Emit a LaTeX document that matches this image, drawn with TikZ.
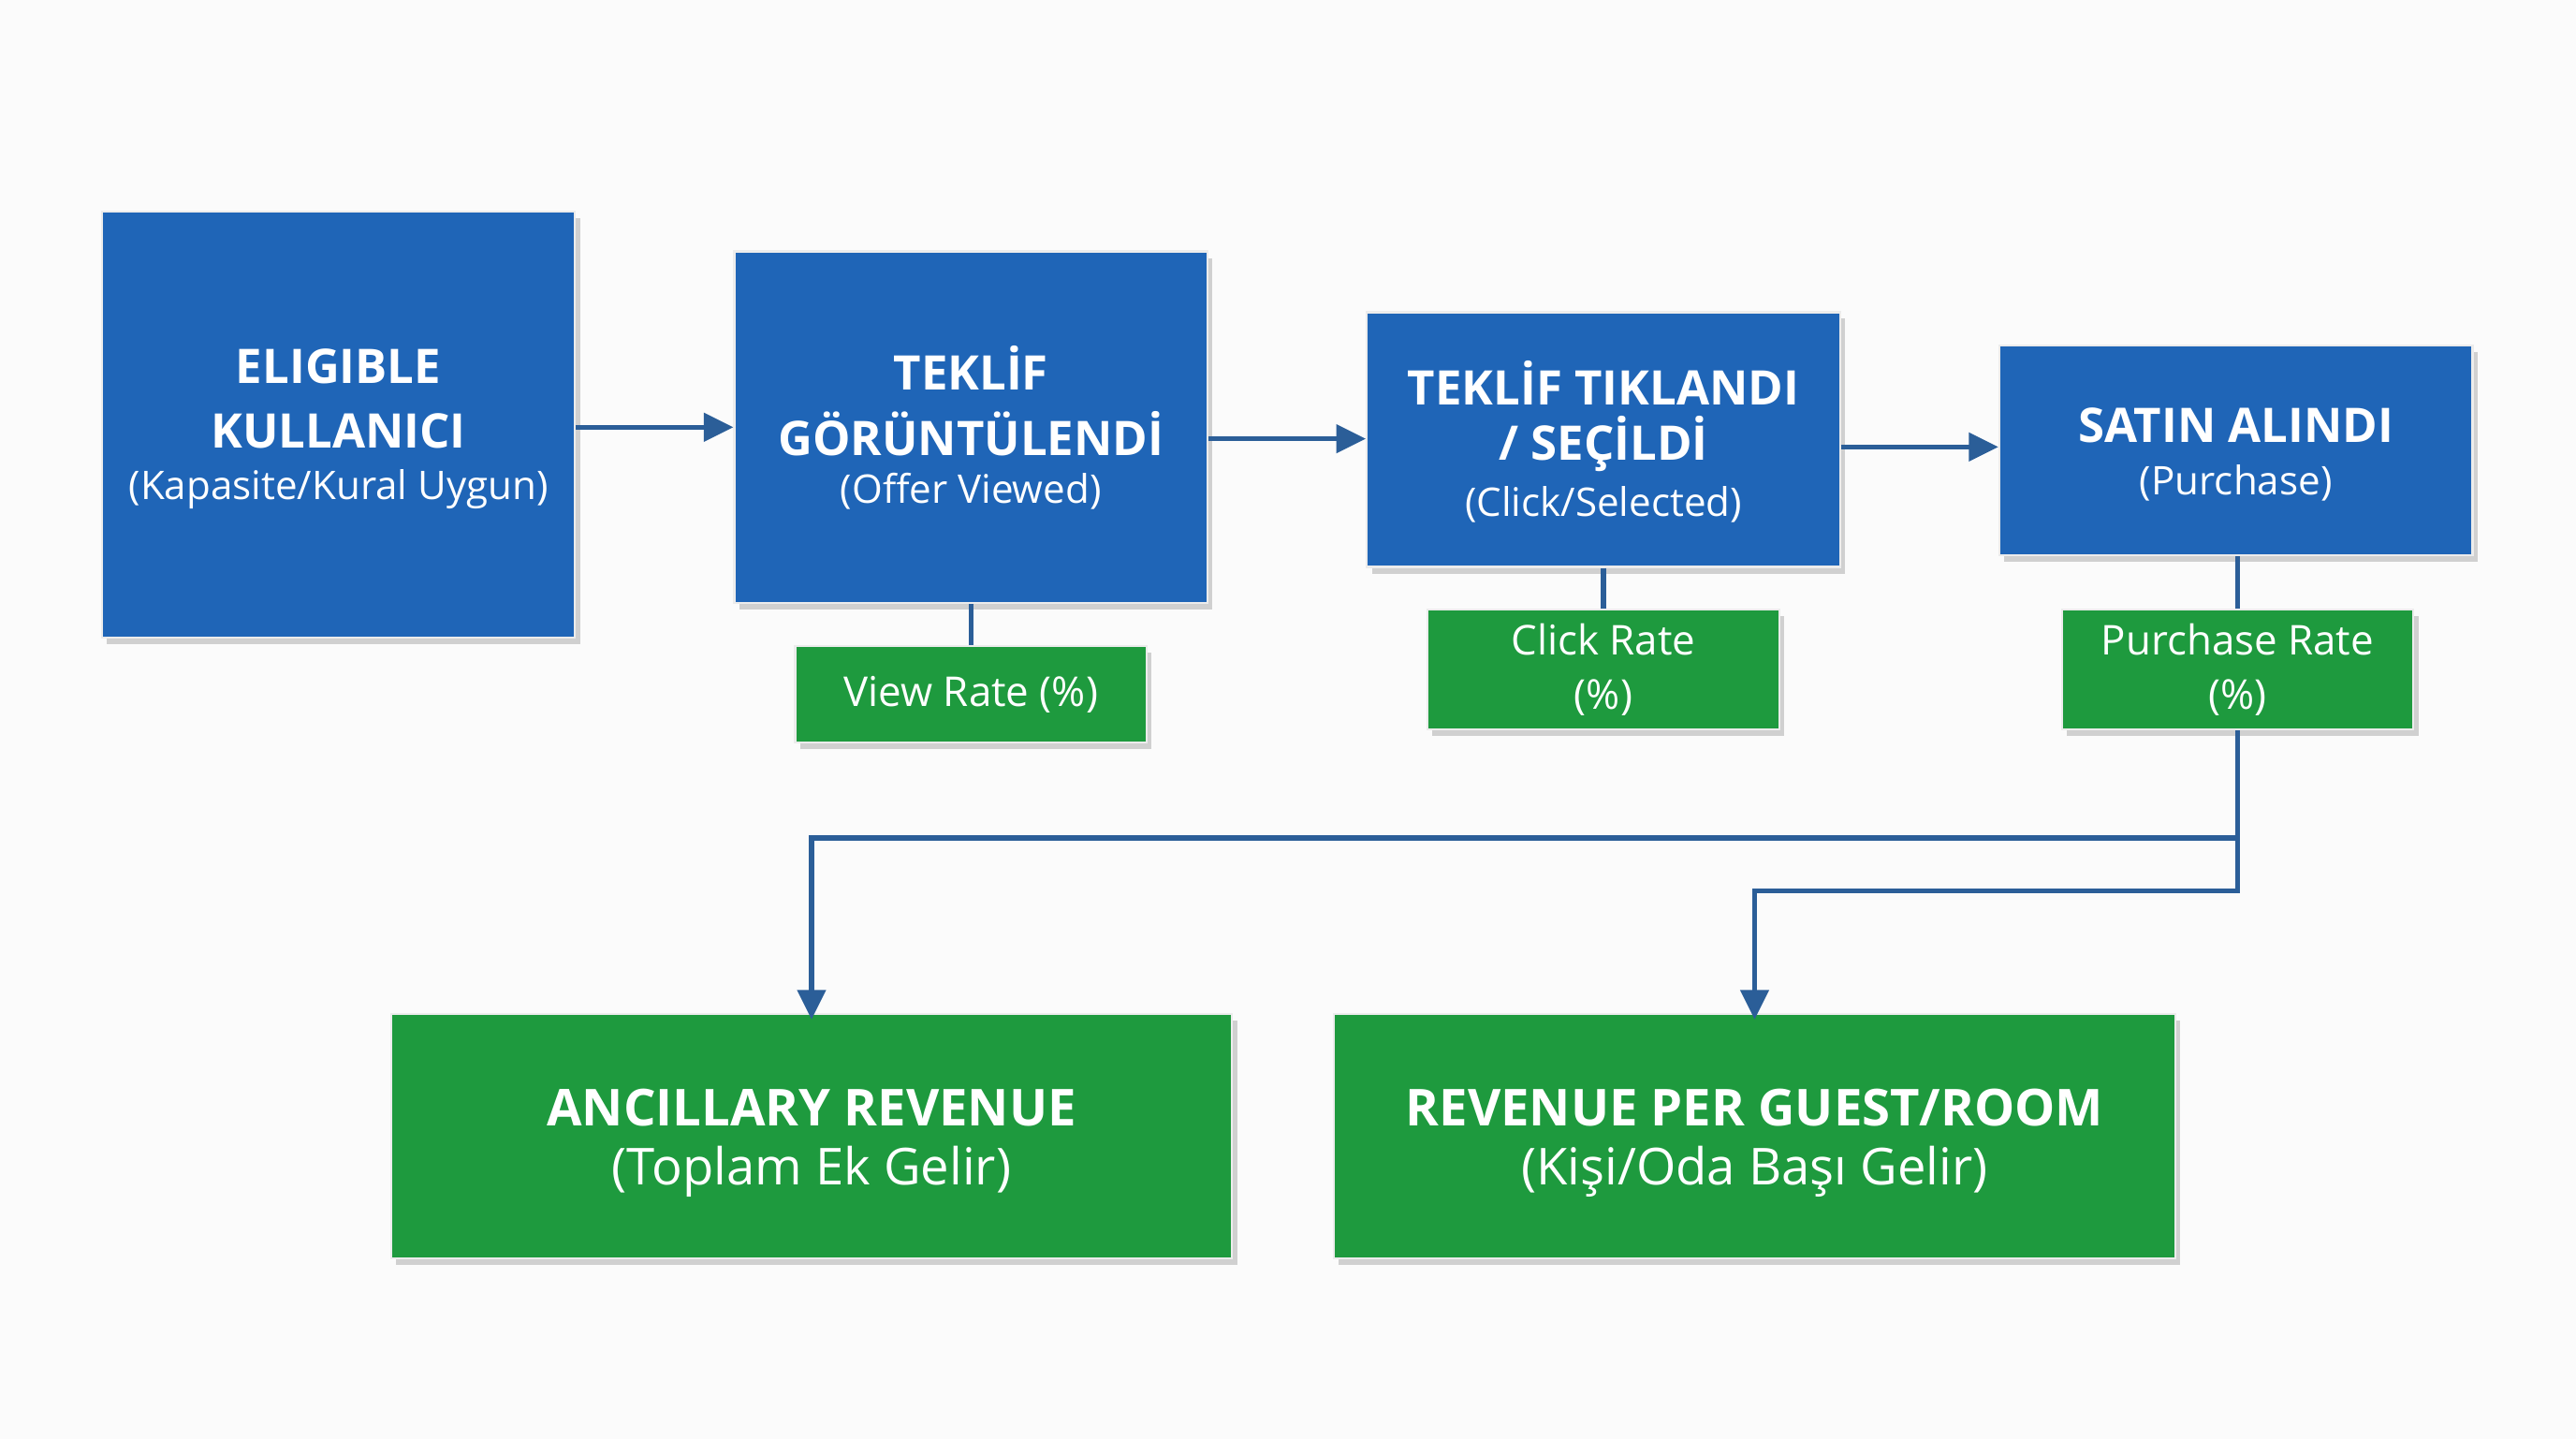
\documentclass[tikz,border=0pt]{standalone}
\usepackage{fontspec}
\setmainfont{Open Sans}
\usetikzlibrary{shadows,arrows.meta}
\definecolor{bbox}{HTML}{1F65B7}
\definecolor{gbox}{HTML}{1E9A3E}
\definecolor{lnc}{HTML}{2B5E98}
\begin{document}
\begin{tikzpicture}[x=1pt,y=-1pt,
  box/.style={draw=white!85!gray,line width=1.2pt,text=white,align=center,inner sep=0pt,
    drop shadow={shadow xshift=3pt,shadow yshift=-4pt,opacity=0.35}},
  blue/.style={box,fill=bbox},
  green/.style={box,fill=gbox},
  tx/.style={text=white,inner sep=0pt},
  ttl/.style={tx,font=\fontsize{29}{34}\selectfont\bfseries},
  sub/.style={tx,font=\fontsize{24}{28}\selectfont},
  bttl/.style={tx,font=\fontsize{31}{36}\selectfont\bfseries},
  bsub/.style={tx,font=\fontsize{31}{36}\selectfont},
  lbl/.style={font=\fontsize{25}{33}\selectfont},
  ln/.style={draw=lnc,line width=3pt},
  ar/.style={ln,-{Triangle[length=18pt,width=17pt]}}]
\fill[white!97!gray] (0,0) rectangle (1568,876);
\useasboundingbox (0,0) rectangle (1568,876);
\node[blue,minimum width=288pt,minimum height=259pt] (b1) at (206,258.5) {};
\node[ttl] (t1a) at (206,223) {ELIGIBLE};
\node[ttl] (t1b) at (206,262) {KULLANICI};
\node[sub] (t1c) at (206,298) {(Kapasite/Kural Uygun)};
\node[blue,minimum width=288pt,minimum height=214pt] (b2) at (591,260) {};
\node[ttl] (t2a) at (591,224) {TEKLİF};
\node[ttl] (t2b) at (591,264) {GÖRÜNTÜLENDİ};
\node[sub] (t2c) at (591,299) {(Offer Viewed)};
\node[blue,minimum width=288pt,minimum height=155pt] (b3) at (976,267.5) {};
\node[ttl] (t3a) at (976,233) {TEKLİF TIKLANDI};
\node[ttl] (t3b) at (976,270) {/ SEÇİLDİ};
\node[sub] (t3c) at (976,307) {(Click/Selected)};
\node[blue,minimum width=288pt,minimum height=128pt] (b4) at (1361,274) {};
\node[ttl] (t4a) at (1361,259) {SATIN ALINDI};
\node[sub] (t4b) at (1361,294) {(Purchase)};
\node[green,minimum width=214pt,minimum height=59pt,lbl] (g1) at (591,422.5) {View Rate (\%)};
\node[green,minimum width=214pt,minimum height=73pt,lbl] (g2) at (976,407.5) {Click Rate\\(\%)};
\node[green,minimum width=214pt,minimum height=73pt,lbl] (g3) at (1362,407.5) {Purchase Rate\\(\%)};
\node[green,minimum width=512pt,minimum height=149pt] (r1) at (494,691.5) {};
\node[bttl] (r1a) at (494,674) {ANCILLARY REVENUE};
\node[bsub] (r1b) at (494,713) {(Toplam Ek Gelir)};
\node[green,minimum width=512pt,minimum height=149pt] (r2) at (1068,691.5) {};
\node[bttl] (r2a) at (1068,674) {REVENUE PER GUEST/ROOM};
\node[bsub] (r2b) at (1068,713) {(Kişi/Oda Başı Gelir)};
\draw[ar] (b1.east |- 0,260) -- (b2.west |- 0,260);
\draw[ar] (b2.east |- 0,267) -- (b3.west |- 0,267);
\draw[ar] (b3.east |- 0,272) -- (b4.west |- 0,272);
\draw[ln] (b2.south) -- (g1.north);
\draw[ln] (b3.south) -- (g2.north);
\draw[ln] (b4.south -| g3.north) -- (g3.north);
\coordinate (j) at (1362,542);
\draw[ar] (g3.south) -- (1362,510) -- (494,510) -- ([yshift=-4pt]r1.north);
\draw[ar] (1362,505) -- (j) -- (1068,542) -- ([yshift=-4pt]r2.north);
\end{tikzpicture}
\end{document}
